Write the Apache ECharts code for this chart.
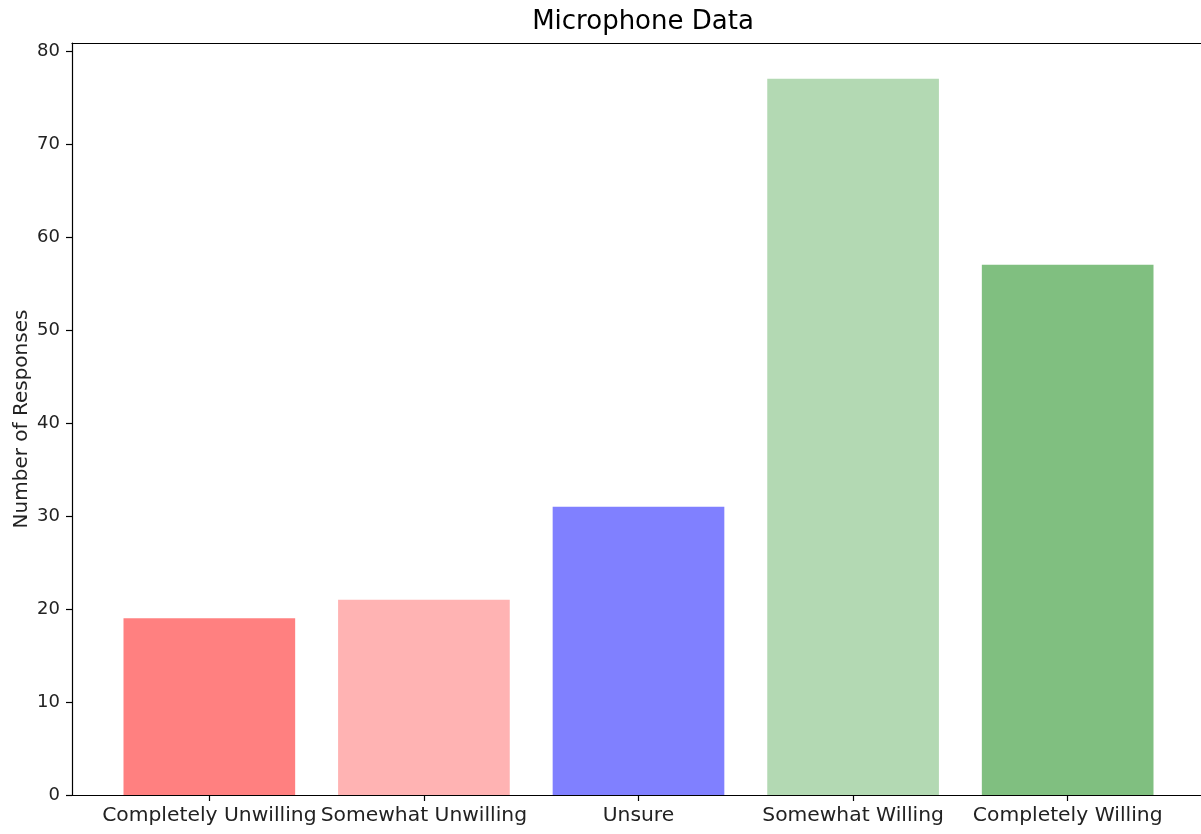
<!DOCTYPE html>
<html>
<head>
<meta charset="utf-8">
<script src="https://cdn.jsdelivr.net/npm/echarts@6/dist/echarts.min.js"></script>
<style>
html,body{margin:0;padding:0;background:#fff;}
#chart{width:1201px;height:834px;}
</style>
</head>
<body>
<div id="chart"></div>
<script>
const categories = ['Completely Unwilling', 'Somewhat Unwilling', 'Unsure', 'Somewhat Willing', 'Completely Willing'];
const responses = [19, 21, 31, 77, 57];
const barColors = ['#ff8080', '#ffb3b3', '#8080ff', '#b3d9b3', '#80bf80'];
const yTicks = [0, 10, 20, 30, 40, 50, 60, 70, 80];

const FONT = 'DejaVu Sans';
const positions = categories.map((c, i) => i);

const chart = echarts.init(document.getElementById('chart'), null, {renderer: 'canvas'});
chart.setOption({
  animation: false,
  backgroundColor: '#fff',
  title: {
    text: 'Microphone Data',
    left: 638,
    top: 4,
    textAlign: 'center',
    textStyle: {fontFamily: FONT, fontSize: 26, fontWeight: 'normal', color: '#000'}
  },
  grid: {left: 72, top: 43, right: -4, bottom: 39, containLabel: false, outerBoundsMode: 'none'},
  xAxis: [{
    type: 'value',
    min: -0.64,
    max: 4.64,
    splitLine: {show: false},
    axisLine: {show: true, onZero: false, lineStyle: {color: '#000', width: 1.2}},
    axisTick: {show: true, length: 6, lineStyle: {color: '#000', width: 1.2}, customValues: positions},
    axisLabel: {
      customValues: positions,
      formatter: v => categories[Math.round(v)] || '',
      fontFamily: FONT, fontSize: 20.3, color: '#222', margin: 11
    }
  }, {
    type: 'value',
    position: 'top',
    min: -0.64,
    max: 4.64,
    splitLine: {show: false},
    axisLine: {show: true, onZero: false, lineStyle: {color: '#000', width: 1.2}},
    axisTick: {show: false},
    axisLabel: {show: false}
  }],
  yAxis: {
    type: 'value',
    min: 0,
    max: 80.85,
    interval: 10,
    splitLine: {show: false},
    axisLine: {show: true, onZero: false, lineStyle: {color: '#000', width: 1.2}},
    axisTick: {show: true, length: 6, lineStyle: {color: '#000', width: 1.2}},
    axisLabel: {
      fontFamily: FONT, fontSize: 18, color: '#222', margin: 12,
      showMaxLabel: false,
      formatter: v => (yTicks.indexOf(v) >= 0 ? String(v) : '')
    },
    name: 'Number of Responses',
    nameLocation: 'middle',
    nameRotate: 90,
    nameGap: 40,
    nameMoveOverlap: false,
    nameTextStyle: {fontFamily: FONT, fontSize: 20, color: '#222'}
  },
  series: [{
    type: 'bar',
    xAxisIndex: 0,
    barWidth: '80%',
    data: responses.map((v, i) => ({value: [positions[i], v], itemStyle: {color: barColors[i]}}))
  }]
});
</script>
</body>
</html>
